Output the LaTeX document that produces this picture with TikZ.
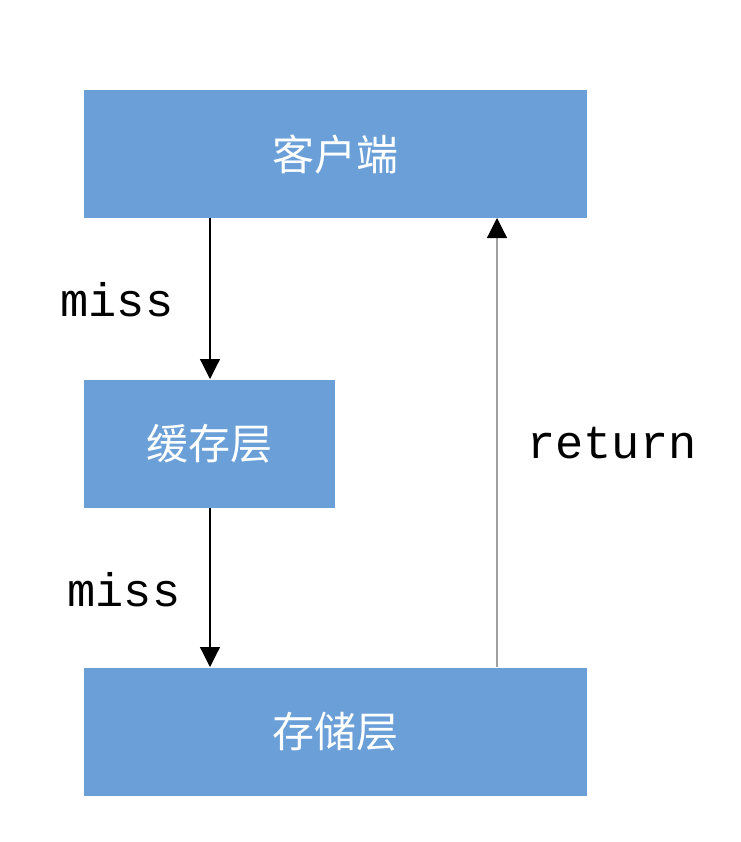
\documentclass[tikz,border=0pt]{standalone}
\usepackage{fontspec}
\newfontfamily\cjk{Noto Sans CJK SC}
\setmonofont{Liberation Mono}
\usetikzlibrary{arrows.meta}
\definecolor{boxblue}{HTML}{6A9FD8}
\definecolor{linegray}{HTML}{A0A0A0}
\begin{document}
\begin{tikzpicture}[x=1pt,y=-1pt,
  blk/.style={fill=boxblue,draw=none,minimum height=128pt,inner sep=0pt,text=white,font=\cjk\fontsize{42}{46}\selectfont},
  lbl/.style={font=\ttfamily\fontsize{47}{52}\selectfont,inner sep=0pt},
  arr/.style={-{Triangle[length=20pt,width=20pt,color=black]},line width=1.2pt}]
\useasboundingbox (0,0) rectangle (740,842);
\node[blk,minimum width=503pt] (client) at (335.5,154) {客户端};
\node[blk,minimum width=251pt] (cache) at (209.5,443.5) {缓存层};
\node[blk,minimum width=503pt] (store) at (335.5,731.5) {存储层};
\coordinate (c1) at (210,218);
\coordinate (c2) at (210,379);
\coordinate (c3) at (210,508);
\coordinate (c4) at (210,667);
\coordinate (r1) at (497,667);
\coordinate (r2) at (497,218);
\draw[arr] (c1) -- (c2);
\draw[arr] (c3) -- (c4);
\draw[arr,draw=linegray] (r1) -- (r2);
\node[lbl] (m1) at (117,300) {miss};
\node[lbl] (m2) at (124,590) {miss};
\node[lbl] (ret) at (612,443) {return};
\end{tikzpicture}
\end{document}
